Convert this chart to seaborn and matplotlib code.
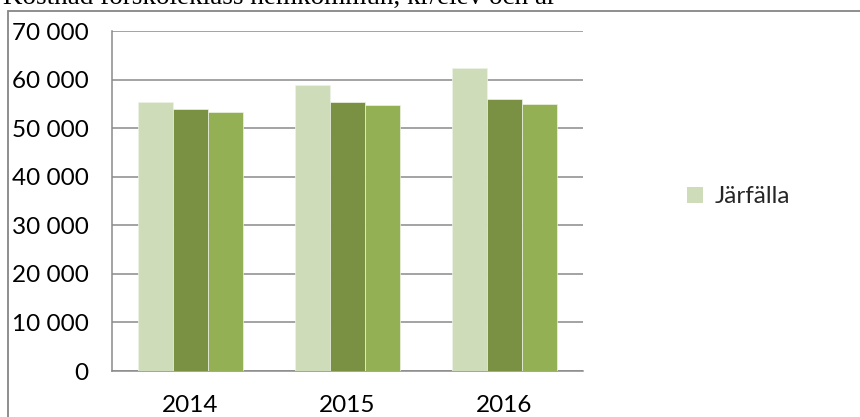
import matplotlib
matplotlib.use("Agg")
import matplotlib.pyplot as plt
import matplotlib.patches as mpatches
import seaborn as sns
import pandas as pd

# Cost per pupil and year, preschool class (kronor)
years = ["2014", "2015", "2016"]
series_names = ["Järfälla", "Kommungrupp", "Riket"]
jarfalla = [55300, 58900, 62300]
kommungrupp = [53900, 55400, 55900]
riket = [53300, 54700, 54900]
y_ticks = [0, 10000, 20000, 30000, 40000, 50000, 60000, 70000]
title = "Kostnad förskoleklass hemkommun, kr/elev och år"

colors = ["#cfdcb9", "#7a9143", "#93b055"]
grid_grey = "#8a8a8a"

rows = []
for name, vals in zip(series_names, [jarfalla, kommungrupp, riket]):
    for yr, v in zip(years, vals):
        rows.append({"År": yr, "Kostnad": v, "Serie": name})
df = pd.DataFrame(rows)

sns.set_theme(style="white")
plt.rcParams["font.family"] = ["Lato", "DejaVu Sans"]

fig = plt.figure(figsize=(8.6, 4.17), dpi=100)
ax = fig.add_axes([112 / 860, 46 / 417, (583 - 112) / 860, 340 / 417])

sns.barplot(data=df, x="År", y="Kostnad", hue="Serie", order=years,
            hue_order=series_names, palette=colors, width=0.67, gap=0,
            saturation=1, legend=False, ax=ax,
            edgecolor="#eef3e6", linewidth=0.5, zorder=3)

ax.set_ylim(0, 70000)
ax.set_yticks(y_ticks)
ax.set_yticklabels([f"{v:,}".replace(",", " ") for v in y_ticks])
ax.set_xlabel("")
ax.set_ylabel("")
ax.yaxis.grid(True, color=grid_grey, linewidth=1.1, zorder=0)
ax.set_axisbelow(True)
for side in ["top", "right"]:
    ax.spines[side].set_visible(False)
for side in ["left", "bottom"]:
    ax.spines[side].set_color(grid_grey)
    ax.spines[side].set_linewidth(1.1)
ax.tick_params(axis="x", length=0, pad=17, labelsize=17.5, colors="black")
ax.tick_params(axis="y", length=0, pad=17, labelsize=17.5, colors="black")

# Legend shows the first series only
handle = mpatches.Patch(facecolor=colors[0], edgecolor="none", label=series_names[0])
fig.legend(handles=[handle], loc="center left",
           bbox_to_anchor=(687 / 860, 1 - 197 / 417), frameon=False,
           fontsize=17.5, handlelength=0.65, handleheight=0.65,
           handletextpad=0.5, borderpad=0, borderaxespad=0)

# Chart frame
frame = mpatches.Rectangle((8 / 860, -0.2), 1.2, 0.2 + 1 - 11 / 417,
                           transform=fig.transFigure, fill=False,
                           edgecolor="#868686", linewidth=1.3)
fig.patches.append(frame)

fig.text(3 / 860, 1 - 5 / 417, title, family=["Liberation Serif", "DejaVu Serif"],
         fontsize=19.5, va="baseline", ha="left", color="black")

fig.savefig("out.png", dpi=100)
